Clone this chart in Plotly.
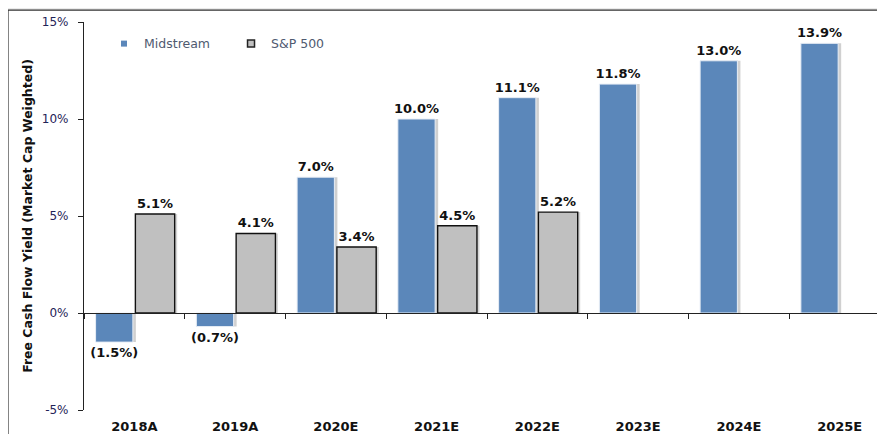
import plotly.graph_objects as go

categories = ["2018A", "2019A", "2020E", "2021E", "2022E", "2023E", "2024E", "2025E"]
midstream = [-1.5, -0.7, 7.0, 10.0, 11.1, 11.8, 13.0, 13.9]
sp500 = [5.1, 4.1, 3.4, 4.5, 5.2, None, None, None]
y_ticks = [-5, 0, 5, 10, 15]
y_tick_labels = ["-5%", "0%", "5%", "10%", "15%"]


def fmt(v):
    if v is None:
        return ""
    return f"({abs(v):.1f}%)" if v < 0 else f"{v:.1f}%"


BLUE = "#5b87ba"
GRAY = "#c0c0c0"
LABEL_FONT = dict(family="DejaVu Sans", size=13, color="#111111", weight="bold")

fig = go.Figure()

# soft shadows
fig.add_trace(go.Bar(x=categories, y=midstream, offset=-0.355, width=0.37,
                     marker=dict(color="rgba(120,120,120,0.35)", line=dict(width=0)),
                     showlegend=False, hoverinfo="skip"))
fig.add_trace(go.Bar(x=categories, y=sp500, offset=0.035, width=0.39,
                     marker=dict(color="rgba(120,120,120,0.30)", line=dict(width=0)),
                     showlegend=False, hoverinfo="skip"))

fig.add_trace(go.Bar(
    x=categories, y=midstream, name="Midstream",
    offset=-0.385, width=0.37,
    marker=dict(color=BLUE, line=dict(color="#e8eef6", width=1)),
    text=[fmt(v) for v in midstream], textposition="outside",
    constraintext="none", textfont=LABEL_FONT, cliponaxis=False, showlegend=False,
))
fig.add_trace(go.Bar(
    x=categories, y=sp500, name="S&P 500",
    offset=0.01, width=0.39,
    marker=dict(color=GRAY, line=dict(color="#111111", width=1.4)),
    text=[fmt(v) for v in sp500], textposition="outside",
    constraintext="none", textfont=LABEL_FONT, cliponaxis=False, showlegend=False,
))

# legend entries
fig.add_trace(go.Scatter(x=[None], y=[None], mode="markers", name="Midstream",
                         marker=dict(symbol="square", size=6, color=BLUE)))
fig.add_trace(go.Scatter(x=[None], y=[None], mode="markers", name="S&P 500",
                         marker=dict(symbol="square", size=7, color=GRAY,
                                     line=dict(color="#222222", width=1.5))))

fig.update_layout(
    width=877, height=426,
    barmode="overlay",
    paper_bgcolor="#ebebeb",
    plot_bgcolor="rgba(0,0,0,0)",
    margin=dict(l=76, r=0, t=14, b=22),
    showlegend=True,
    legend=dict(orientation="h", x=0.025, y=0.982, xanchor="left", yanchor="top",
                bgcolor="rgba(0,0,0,0)", entrywidth=82, entrywidthmode="pixels",
                font=dict(family="DejaVu Sans", size=12.5, color="#4f5a70"),
                itemwidth=30),
    shapes=[dict(type="rect", xref="paper", yref="paper",
                 x0=-76 / 801, x1=1.01, y0=-0.2, y1=1 + 12 / 390,
                 fillcolor="white", line=dict(color="#333333", width=1.2),
                 layer="below")],
    xaxis=dict(
        type="category", range=[-0.5, 7.45],
        anchor="free", position=0.25,
        showline=True, linecolor="#222222", linewidth=1.2,
        ticks="outside", tickson="boundaries", ticklen=5, tickcolor="#222222",
        showgrid=False, zeroline=False,
        ticklabelstandoff=101,
        tickfont=dict(family="DejaVu Sans", size=13, color="#111111", weight="bold"),
    ),
    yaxis=dict(
        range=[-5, 15], tickvals=y_ticks, ticktext=y_tick_labels,
        showline=True, linecolor="#222222", linewidth=1.2,
        ticks="outside", ticklen=5, tickcolor="#222222",
        showgrid=False, zeroline=False,
        ticklabelstandoff=7,
        tickfont=dict(family="DejaVu Sans", size=12, color="#1f2358"),
        title=dict(text="Free Cash Flow Yield (Market Cap Weighted)", standoff=6,
                   font=dict(family="DejaVu Sans", size=12.5, color="#111111", weight="bold")),
    ),
)

fig.write_html("out.html")
